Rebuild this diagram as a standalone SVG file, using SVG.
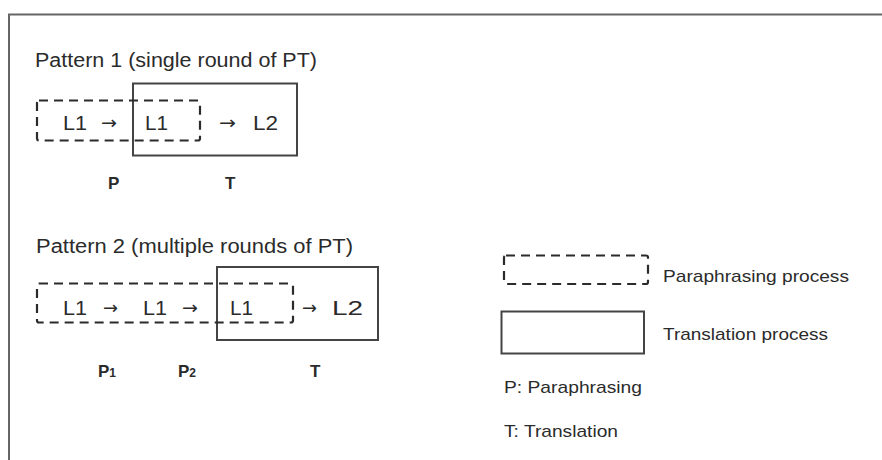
<svg xmlns="http://www.w3.org/2000/svg" width="882" height="460" viewBox="0 0 882 460">
<style>
text{font-family:"Liberation Sans",Arial,sans-serif;fill:#2b2b2b}
.t{font-size:20px}
.n{font-size:20px}
.ar{font-family:"DejaVu Sans",sans-serif;font-size:18px}
.lg{font-size:17px}
.b{font-size:17px;font-weight:bold}
.dash{fill:none;stroke:#2b2b2b;stroke-width:2.2;stroke-dasharray:9 6}
.solid{fill:none;stroke:#444;stroke-width:2}
</style>
<rect x="0" y="0" width="882" height="460" fill="#fff"/>
<path d="M9 460 V14.5 H882" fill="none" stroke="#666" stroke-width="2"/>

<g id="pattern1">
<text class="t" x="35" y="67" textLength="282" lengthAdjust="spacingAndGlyphs">Pattern 1 (single round of PT)</text>
<rect id="p1-T" class="solid" x="133" y="83.5" width="164" height="72"/>
<rect id="p1-P" class="dash" x="37" y="100.5" width="163" height="40" rx="2"/>
<text class="n" x="63" y="130" textLength="24" lengthAdjust="spacingAndGlyphs">L1</text>
<text class="ar" x="101" y="129" textLength="16" lengthAdjust="spacingAndGlyphs">→</text>
<text class="n" x="145" y="130" textLength="23" lengthAdjust="spacingAndGlyphs">L1</text>
<text class="ar" x="219" y="129" textLength="17" lengthAdjust="spacingAndGlyphs">→</text>
<text class="n" x="253" y="130" textLength="25" lengthAdjust="spacingAndGlyphs">L2</text>
<text class="b" x="108" y="189">P</text>
<text class="b" x="225" y="189">T</text>
</g>

<g id="pattern2">
<text class="t" x="36" y="253" textLength="317" lengthAdjust="spacingAndGlyphs">Pattern 2 (multiple rounds of PT)</text>
<rect id="p2-T" class="solid" x="217" y="267" width="161" height="73"/>
<rect id="p2-P" class="dash" x="37" y="283.5" width="256" height="39" rx="2"/>
<text class="n" x="63" y="315" textLength="24" lengthAdjust="spacingAndGlyphs">L1</text>
<text class="ar" x="103" y="314" textLength="15" lengthAdjust="spacingAndGlyphs">→</text>
<text class="n" x="143" y="315" textLength="24" lengthAdjust="spacingAndGlyphs">L1</text>
<text class="ar" x="182" y="314" textLength="16" lengthAdjust="spacingAndGlyphs">→</text>
<text class="n" x="230" y="315" textLength="23" lengthAdjust="spacingAndGlyphs">L1</text>
<text class="ar" x="302" y="314" textLength="15" lengthAdjust="spacingAndGlyphs">→</text>
<text class="n" x="332" y="315" textLength="31" lengthAdjust="spacingAndGlyphs">L2</text>
<text class="b" x="98" y="377">P<tspan font-size="12">1</tspan></text>
<text class="b" x="178" y="377">P<tspan font-size="12">2</tspan></text>
<text class="b" x="310" y="377">T</text>
</g>

<g id="legend">
<rect id="lg-P" class="dash" x="504" y="255.5" width="144" height="28.5" rx="2"/>
<text class="lg" x="663" y="282" textLength="186" lengthAdjust="spacingAndGlyphs">Paraphrasing process</text>
<rect id="lg-T" class="solid" x="501.5" y="311.5" width="142.5" height="42"/>
<text class="lg" x="663" y="340" textLength="165" lengthAdjust="spacingAndGlyphs">Translation process</text>
<text class="lg" x="504" y="393" textLength="138" lengthAdjust="spacingAndGlyphs">P: Paraphrasing</text>
<text class="lg" x="504" y="437" textLength="114" lengthAdjust="spacingAndGlyphs">T: Translation</text>
</g>
<g id="connectors"></g>
</svg>
